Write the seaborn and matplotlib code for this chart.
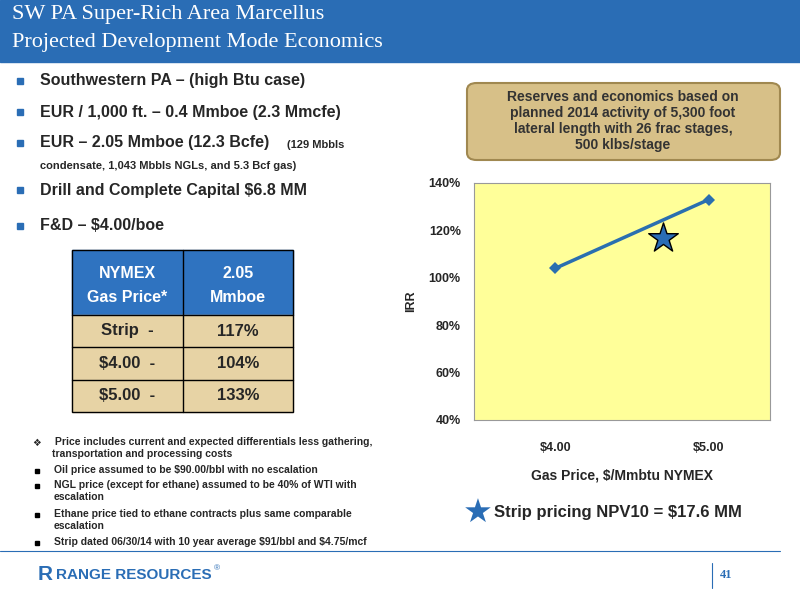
import matplotlib
matplotlib.use("Agg")
import matplotlib.pyplot as plt
import seaborn as sns
import pandas as pd
from matplotlib.patches import Rectangle, FancyBboxPatch

gas_price = [4.00, 5.00]
irr = [104, 133]
strip_price = 4.7
strip_irr = 117
xtick_labels = ["$4.00", "$5.00"]
ytick_vals = [40, 60, 80, 100, 120, 140]

bullets = ["Southwestern PA \u2013 (high Btu case)",
           "EUR / 1,000 ft. \u2013 0.4 Mmboe (2.3 Mmcfe)",
           "EUR \u2013 2.05 Mmboe (12.3 Bcfe)",
           "Drill and Complete Capital $6.8 MM",
           "F&D \u2013 $4.00/boe"]
table_rows = [("Strip  -", "117%"), ("$4.00  -", "104%"), ("$5.00  -", "133%")]
notes = ["Oil price assumed to be $90.00/bbl with no escalation",
         "NGL price (except for ethane) assumed to be 40% of WTI with\nescalation",
         "Ethane price tied to ethane contracts plus same comparable\nescalation",
         "Strip dated 06/30/14 with 10 year average $91/bbl and $4.75/mcf"]

sns.set_theme(style="white")
plt.rcParams['font.family'] = ['Liberation Sans', 'DejaVu Sans']
plt.rcParams['text.parse_math'] = False
fig = plt.figure(figsize=(8, 6), dpi=100)

def px(x, y):
    return x / 800, 1 - y / 600

BLUE = "#2a6db5"
# header
fig.patches.append(Rectangle((0, 1 - 62/600), 1, 62/600, transform=fig.transFigure, color=BLUE, zorder=0))
fig.text(*px(12, 15), "SW PA Super-Rich Area Marcellus", color="white", fontsize=16, family="Liberation Serif", va="center")
fig.text(*px(12, 43), "Projected Development Mode Economics", color="white", fontsize=16, family="Liberation Serif", va="center")

# bullets
ys = [81, 112, 143, 190, 226]
for y, b in zip(ys, bullets):
    fig.patches.append(Rectangle(px(17, y + 3), 6/800, 6/600, transform=fig.transFigure, color=BLUE))
    fig.text(*px(40, y), b, fontsize=11.5, weight="bold", va="center")
fig.text(*px(287, 145), "(129 Mbbls", fontsize=8, weight="bold", va="center")
fig.text(*px(40, 166), "condensate, 1,043 Mbbls NGLs, and 5.3 Bcf gas)", fontsize=8, weight="bold", va="center")

# table
tx0, tx1, tmid = 72, 293, 183
fig.patches.append(Rectangle(px(tx0, 315), (tx1-tx0)/800, 65/600, transform=fig.transFigure, color="#2f73c0"))
fig.patches.append(Rectangle(px(tx0, 412), (tx1-tx0)/800, 97/600, transform=fig.transFigure, color="#e7d3a5"))
for yy in [315, 347, 380]:
    fig.lines.append(plt.Line2D([tx0/800, tx1/800], [1-yy/600]*2, transform=fig.transFigure, color="black", lw=1))
fig.lines.append(plt.Line2D([tmid/800]*2, [1-250/600, 1-412/600], transform=fig.transFigure, color="black", lw=1))
fig.patches.append(Rectangle(px(tx0, 412), (tx1-tx0)/800, 162/600, transform=fig.transFigure, fill=False, ec="black", lw=1))
fig.text(*px(127, 273), "NYMEX", color="white", fontsize=11.5, weight="bold", ha="center", va="center")
fig.text(*px(127, 297), "Gas Price*", color="white", fontsize=11.5, weight="bold", ha="center", va="center")
fig.text(*px(238, 273), "2.05", color="white", fontsize=11.5, weight="bold", ha="center", va="center")
fig.text(*px(238, 297), "Mmboe", color="white", fontsize=11.5, weight="bold", ha="center", va="center")
for (a, b), y in zip(table_rows, [331, 364, 396]):
    fig.text(*px(127, y), a, fontsize=12, weight="bold", ha="center", va="center")
    fig.text(*px(238, y), b, fontsize=12, weight="bold", ha="center", va="center")

# notes
fig.text(*px(37, 443), "\u2756", fontsize=7, va="center", ha="center", family="DejaVu Sans")
fig.text(*px(52, 437), " Price includes current and expected differentials less gathering,\ntransportation and processing costs", fontsize=7.5, weight="bold", va="top", linespacing=1.2)
ny = [471, 486, 515, 543]
for y, n in zip(ny, notes):
    fig.patches.append(Rectangle(px(35, y + 2), 4/800, 4/600, transform=fig.transFigure, color="black"))
    fig.text(*px(54, y - 6), n, fontsize=7.5, weight="bold", va="top", linespacing=1.2)

# callout box
box = FancyBboxPatch((467/800, 1-160/600), 313/800, 77/600, boxstyle="round,pad=0,rounding_size=0.012",
                     transform=fig.transFigure, fc="#d7c088", ec="#a08850", lw=1.5)
fig.patches.append(box)
fig.text(*px(623, 121), "Reserves and economics based on\nplanned 2014 activity of 5,300 foot\nlateral length with 26 frac stages,\n500 klbs/stage",
         fontsize=10, weight="bold", color="#333333", ha="center", va="center", linespacing=1.2)

# chart
ax = fig.add_axes([474/800, 1-420/600, 296/800, 237/600])
ax.set_facecolor("#ffff99")
df = pd.DataFrame({"price": gas_price, "irr": irr})
sns.lineplot(data=df, x="price", y="irr", ax=ax, color="#2a6fb0", lw=2.5, marker="D", markersize=6, markeredgewidth=0)
ax.scatter([strip_price], [strip_irr], marker="*", s=500, color=BLUE, edgecolor="black", linewidth=1, zorder=5)
ax.set_xlim(3.47, 5.4)
ax.set_ylim(40, 140)
ax.set_xticks(gas_price, xtick_labels, fontsize=9, weight="bold")
ax.set_yticks(ytick_vals, [f"{v}%" for v in ytick_vals], fontsize=9, weight="bold")
ax.tick_params(axis="x", pad=10)
ax.set_xlabel("Gas Price, $/Mmbtu NYMEX", fontsize=10, weight="bold", labelpad=10)
ax.set_ylabel("IRR", fontsize=9, weight="bold", labelpad=8)
for s in ax.spines.values():
    s.set_color("#999999")
    s.set_linewidth(0.8)

# NPV line
fig.text(*px(478, 513), "\u2605", fontsize=24, color=BLUE, ha="center", va="center", family="DejaVu Sans")
fig.text(*px(494, 513), "Strip pricing NPV10 = $17.6 MM", fontsize=12, weight="bold", va="center")

# footer
fig.lines.append(plt.Line2D([0, 780/800], [1-551/600]*2, transform=fig.transFigure, color=BLUE, lw=0.8))
fig.text(*px(38, 575), "R", fontsize=15, weight="bold", color=BLUE, va="center")
fig.text(*px(56, 575), "RANGE RESOURCES", fontsize=11, weight="bold", color=BLUE, va="center")
fig.text(*px(214, 569), "\u00ae", fontsize=6, color=BLUE, va="center")
fig.lines.append(plt.Line2D([712/800]*2, [1-563/600, 1-588/600], transform=fig.transFigure, color=BLUE, lw=0.8))
fig.text(*px(720, 575), "41", fontsize=9, weight="bold", color=BLUE, va="center", family="Liberation Serif")

fig.savefig("out.png", dpi=100)
